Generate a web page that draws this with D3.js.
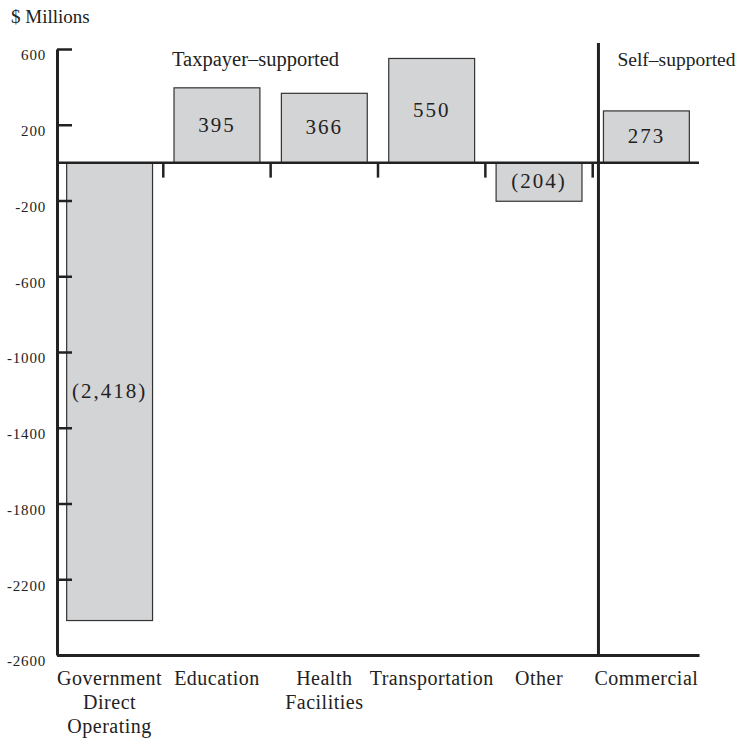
<!DOCTYPE html>
<html>
<head>
<meta charset="utf-8">
<script src="https://cdn.jsdelivr.net/npm/d3@7"></script>
<style>
body { margin: 0; background: #fff; }
text { font-family: "Liberation Serif", serif; fill: #222; }
</style>
</head>
<body>
<script>
//chart data
var categories = ["Government Direct Operating", "Education", "Health Facilities", "Transportation", "Other", "Commercial"];
var labelLines = [["Government", "Direct", "Operating"], ["Education"], ["Health", "Facilities"], ["Transportation"], ["Other"], ["Commercial"]];
var values = [-2418, 395, 366, 550, -204, 273];
var valueLabels = ["(2,418)", "395", "366", "550", "(204)", "273"];
var yTicks = [600, 200, -200, -600, -1000, -1400, -1800, -2200, -2600];
var groups = ["Taxpayer\u2013supported", "Self\u2013supported"];

window.onload = drawChart();

function drawChart(){
    var width = 744,
        height = 740;

    var svg = d3.select("body")
        .append("svg")
        .attr("width", width)
        .attr("height", height);

    //scales
    var x = d3.scaleBand()
        .domain(categories)
        .range([57, 699])
        .paddingInner(0.2)
        .paddingOuter(0.09);

    var y = d3.scaleLinear()
        .domain([-2600, 600])
        .range([655, 49]);

    var ink = "#222";

    //bars
    svg.selectAll(".bar")
        .data(values)
        .enter()
        .append("rect")
        .attr("class", "bar")
        .attr("x", function(d, i){ return x(categories[i]); })
        .attr("y", function(d){ return y(Math.max(d, 0)); })
        .attr("width", x.bandwidth())
        .attr("height", function(d){ return Math.abs(y(d) - y(0)); })
        .attr("fill", "#d3d4d6")
        .attr("stroke", "#333")
        .attr("stroke-width", 1.2);

    //value labels in the middle of each bar
    svg.selectAll(".vlabel")
        .data(values)
        .enter()
        .append("text")
        .attr("class", "vlabel")
        .attr("x", function(d, i){ return x(categories[i]) + x.bandwidth() / 2; })
        .attr("y", function(d){ return (y(d) + y(0)) / 2; })
        .attr("dy", "0.3em")
        .attr("text-anchor", "middle")
        .style("font-size", "21px")
        .style("letter-spacing", "2px")
        .text(function(d, i){ return valueLabels[i]; });

    //y axis, ticks pointing inward
    var yAxis = d3.axisLeft(y)
        .tickValues(yTicks)
        .tickSizeInner(-15)
        .tickSizeOuter(0)
        .tickPadding(11)
        .tickFormat(function(d){ return String(d); });

    var yg = svg.append("g")
        .attr("transform", "translate(57,0)")
        .call(yAxis)
        .attr("font-family", "'Liberation Serif', serif");
    yg.select(".domain").attr("stroke", ink).attr("stroke-width", 3);
    yg.selectAll(".tick line").attr("stroke", ink).attr("stroke-width", 2.5);
    yg.selectAll(".tick text")
        .attr("dy", "0.72em")
        .style("font-size", "15px")
        .style("letter-spacing", "0.8px")
        .attr("fill", ink);

    //zero baseline with small separator ticks
    svg.append("line")
        .attr("x1", 57).attr("x2", 699)
        .attr("y1", y(0)).attr("y2", y(0))
        .attr("stroke", ink)
        .attr("stroke-width", 2.5);

    var gap = x.step() - x.bandwidth();
    svg.selectAll(".sep")
        .data(categories.slice(0, categories.length - 1))
        .enter()
        .append("line")
        .attr("class", "sep")
        .attr("x1", function(d){ return x(d) + x.bandwidth() + gap / 2; })
        .attr("x2", function(d){ return x(d) + x.bandwidth() + gap / 2; })
        .attr("y1", y(0))
        .attr("y2", y(0) + 15)
        .attr("stroke", ink)
        .attr("stroke-width", 2.5);

    //bottom axis with multi-line category names
    var xAxis = d3.axisBottom(x)
        .tickSize(0)
        .tickSizeOuter(0)
        .tickFormat("");

    var xg = svg.append("g")
        .attr("transform", "translate(0," + y(-2600) + ")")
        .call(xAxis);
    xg.select(".domain").attr("stroke", ink).attr("stroke-width", 3);

    svg.selectAll(".xlabel")
        .data(labelLines)
        .enter()
        .append("text")
        .attr("class", "xlabel")
        .attr("text-anchor", "middle")
        .style("font-size", "20px")
        .style("letter-spacing", "0.5px")
        .each(function(lines, i){
            var t = d3.select(this);
            lines.forEach(function(line, j){
                t.append("tspan")
                    .attr("x", x(categories[i]) + x.bandwidth() / 2)
                    .attr("y", y(-2600) + 30 + j * 24)
                    .text(line);
            });
        });

    //divider between taxpayer and self supported
    var divX = x("Commercial") - 5;
    svg.append("line")
        .attr("x1", divX).attr("x2", divX)
        .attr("y1", 43).attr("y2", y(-2600))
        .attr("stroke", ink)
        .attr("stroke-width", 3);

    //group titles
    svg.append("text")
        .attr("x", 172).attr("y", 66)
        .style("font-size", "20.5px")
        .text(groups[0]);

    svg.append("text")
        .attr("x", divX + 19).attr("y", 66)
        .style("font-size", "19.5px")
        .text(groups[1]);

    //unit label
    svg.append("text")
        .attr("x", 11).attr("y", 23)
        .style("font-size", "19px")
        .text("$ Millions");
}
</script>
</body>
</html>
